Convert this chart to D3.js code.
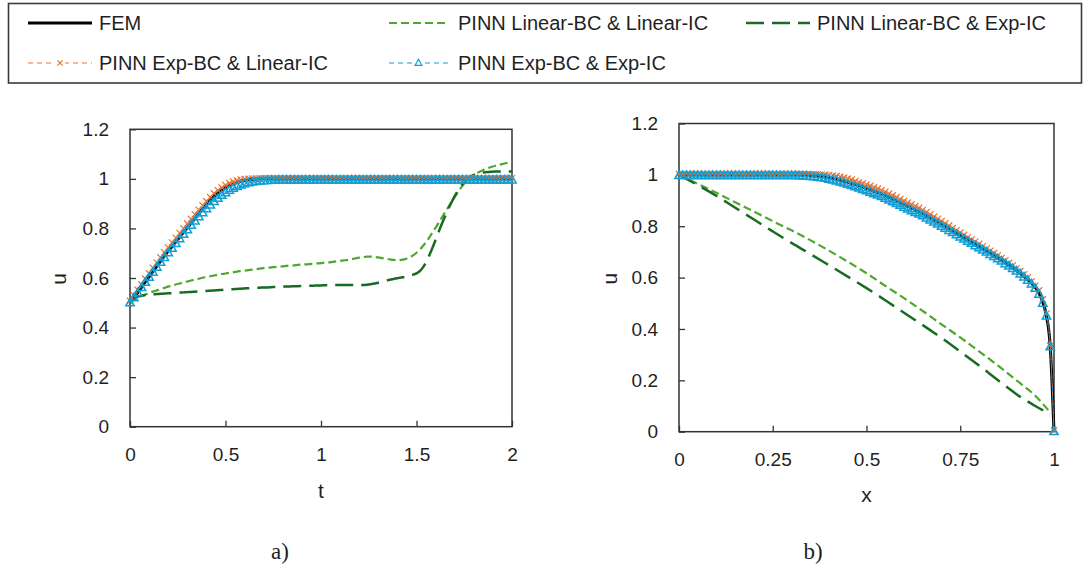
<!DOCTYPE html>
<html>
<head>
<meta charset="utf-8">
<script src="https://cdn.jsdelivr.net/npm/d3@7"></script>
<style>
  body { margin: 0; background: #fff; }
  svg { display: block; }
  text { font-family: "Liberation Sans", Arial, sans-serif; fill: #1f1f1f; }
  .caption { font-family: "Liberation Serif", "Times New Roman", serif; }
</style>
</head>
<body>
<svg id="fig" width="1083" height="570"></svg>
<script>
// ---------- (a) u versus t ----------
const tGrid = [
  0, 0.02, 0.04, 0.06, 0.08, 0.1, 0.12, 0.14, 0.16, 0.18,
  0.2, 0.22, 0.24, 0.26, 0.28, 0.3, 0.32, 0.34, 0.36, 0.38,
  0.4, 0.42, 0.44, 0.46, 0.48, 0.5, 0.52, 0.54, 0.56, 0.58,
  0.6, 0.62, 0.64, 0.66, 0.68, 0.7, 0.72, 0.74, 0.76, 0.78,
  0.8, 0.82, 0.84, 0.86, 0.88, 0.9, 0.92, 0.94, 0.96, 0.98,
  1, 1.02, 1.04, 1.06, 1.08, 1.1, 1.12, 1.14, 1.16, 1.18,
  1.2, 1.22, 1.24, 1.26, 1.28, 1.3, 1.32, 1.34, 1.36, 1.38,
  1.4, 1.42, 1.44, 1.46, 1.48, 1.5, 1.52, 1.54, 1.56, 1.58,
  1.6, 1.62, 1.64, 1.66, 1.68, 1.7, 1.72, 1.74, 1.76, 1.78,
  1.8, 1.82, 1.84, 1.86, 1.88, 1.9, 1.92, 1.94, 1.96, 1.98,
  2
];
const femT = [
  0.5, 0.52, 0.54, 0.562, 0.584, 0.605, 0.626, 0.647, 0.668, 0.688,
  0.708, 0.727, 0.746, 0.765, 0.784, 0.803, 0.822, 0.841, 0.86, 0.878,
  0.896, 0.913, 0.928, 0.942, 0.954, 0.964, 0.973, 0.98, 0.986, 0.99,
  0.993, 0.996, 0.998, 0.999, 1, 1, 1, 1, 1, 1,
  1, 1, 1, 1, 1, 1, 1, 1, 1, 1,
  1, 1, 1, 1, 1, 1, 1, 1, 1, 1,
  1, 1, 1, 1, 1, 1, 1, 1, 1, 1,
  1, 1, 1, 1, 1, 1, 1, 1, 1, 1,
  1, 1, 1, 1, 1, 1, 1, 1, 1, 1,
  1, 1, 1, 1, 1, 1, 1, 1, 1, 1,
  1
];
const linBcLinIcT = [
  0.5, 0.512, 0.52, 0.527, 0.533, 0.539, 0.545, 0.55, 0.555, 0.56,
  0.565, 0.569, 0.574, 0.578, 0.582, 0.586, 0.59, 0.594, 0.597, 0.601,
  0.604, 0.607, 0.61, 0.613, 0.616, 0.618, 0.621, 0.623, 0.626, 0.628,
  0.63, 0.632, 0.634, 0.636, 0.638, 0.64, 0.641, 0.643, 0.644, 0.646,
  0.647, 0.649, 0.65, 0.651, 0.653, 0.654, 0.655, 0.656, 0.658, 0.659,
  0.66, 0.662, 0.663, 0.665, 0.667, 0.669, 0.671, 0.673, 0.676, 0.679,
  0.682, 0.684, 0.686, 0.686, 0.685, 0.683, 0.68, 0.677, 0.675, 0.673,
  0.672, 0.673, 0.676, 0.682, 0.69, 0.702, 0.717, 0.735, 0.756, 0.779,
  0.803, 0.828, 0.853, 0.878, 0.903, 0.927, 0.95, 0.972, 0.99, 1.004,
  1.016, 1.025, 1.032, 1.039, 1.045, 1.05, 1.054, 1.058, 1.062, 1.065,
  1.068
];
const linBcExpIcT = [
  0.5, 0.516, 0.525, 0.529, 0.531, 0.533, 0.534, 0.535, 0.536, 0.537,
  0.538, 0.539, 0.54, 0.541, 0.542, 0.543, 0.544, 0.545, 0.546, 0.547,
  0.548, 0.549, 0.55, 0.551, 0.552, 0.553, 0.554, 0.555, 0.556, 0.557,
  0.558, 0.559, 0.559, 0.56, 0.561, 0.562, 0.562, 0.563, 0.564, 0.564,
  0.565, 0.566, 0.566, 0.567, 0.567, 0.568, 0.568, 0.569, 0.569, 0.57,
  0.57, 0.571, 0.571, 0.571, 0.572, 0.572, 0.572, 0.572, 0.572, 0.572,
  0.572, 0.572, 0.573, 0.575, 0.578, 0.581, 0.585, 0.589, 0.593, 0.596,
  0.599, 0.602, 0.605, 0.609, 0.613, 0.619, 0.63, 0.65, 0.68, 0.715,
  0.754, 0.794, 0.832, 0.868, 0.9, 0.93, 0.956, 0.978, 0.996, 1.008,
  1.016, 1.021, 1.025, 1.027, 1.028, 1.029, 1.03, 1.03, 1.03, 1.03,
  1.03
];
const expBcLinIcT = [
  0.508, 0.53, 0.552, 0.574, 0.597, 0.619, 0.641, 0.662, 0.683, 0.703,
  0.723, 0.743, 0.762, 0.781, 0.8, 0.819, 0.838, 0.857, 0.875, 0.893,
  0.91, 0.926, 0.941, 0.954, 0.965, 0.975, 0.983, 0.989, 0.994, 0.997,
  0.999, 1, 1.001, 1.001, 1.002, 1.002, 1.002, 1.002, 1.002, 1.002,
  1.002, 1.002, 1.002, 1.002, 1.002, 1.002, 1.002, 1.002, 1.002, 1.002,
  1.002, 1.002, 1.002, 1.002, 1.002, 1.002, 1.002, 1.002, 1.002, 1.002,
  1.002, 1.002, 1.002, 1.002, 1.002, 1.002, 1.002, 1.002, 1.002, 1.002,
  1.002, 1.002, 1.002, 1.002, 1.002, 1.002, 1.002, 1.002, 1.002, 1.002,
  1.002, 1.002, 1.002, 1.002, 1.002, 1.002, 1.002, 1.002, 1.002, 1.002,
  1.002, 1.002, 1.002, 1.002, 1.002, 1.002, 1.002, 1.002, 1.003, 1.003,
  1.003
];
const expBcExpIcT = [
  0.5, 0.52, 0.54, 0.561, 0.582, 0.603, 0.623, 0.643, 0.663, 0.682,
  0.701, 0.72, 0.739, 0.758, 0.776, 0.794, 0.812, 0.83, 0.847, 0.863,
  0.879, 0.894, 0.908, 0.921, 0.933, 0.944, 0.954, 0.962, 0.969, 0.975,
  0.98, 0.984, 0.987, 0.989, 0.991, 0.992, 0.993, 0.994, 0.994, 0.995,
  0.995, 0.995, 0.995, 0.995, 0.995, 0.995, 0.995, 0.995, 0.995, 0.995,
  0.995, 0.995, 0.995, 0.995, 0.995, 0.995, 0.995, 0.995, 0.995, 0.995,
  0.995, 0.995, 0.995, 0.995, 0.995, 0.995, 0.995, 0.995, 0.995, 0.995,
  0.995, 0.995, 0.995, 0.995, 0.995, 0.995, 0.995, 0.995, 0.995, 0.995,
  0.995, 0.995, 0.995, 0.995, 0.995, 0.995, 0.995, 0.995, 0.995, 0.995,
  0.995, 0.995, 0.995, 0.995, 0.995, 0.995, 0.995, 0.995, 0.995, 0.995,
  0.995
];

// ---------- (b) u versus x ----------
const xGrid = [
  0, 0.01, 0.02, 0.03, 0.04, 0.05, 0.06, 0.07, 0.08, 0.09,
  0.1, 0.11, 0.12, 0.13, 0.14, 0.15, 0.16, 0.17, 0.18, 0.19,
  0.2, 0.21, 0.22, 0.23, 0.24, 0.25, 0.26, 0.27, 0.28, 0.29,
  0.3, 0.31, 0.32, 0.33, 0.34, 0.35, 0.36, 0.37, 0.38, 0.39,
  0.4, 0.41, 0.42, 0.43, 0.44, 0.45, 0.46, 0.47, 0.48, 0.49,
  0.5, 0.51, 0.52, 0.53, 0.54, 0.55, 0.56, 0.57, 0.58, 0.59,
  0.6, 0.61, 0.62, 0.63, 0.64, 0.65, 0.66, 0.67, 0.68, 0.69,
  0.7, 0.71, 0.72, 0.73, 0.74, 0.75, 0.76, 0.77, 0.78, 0.79,
  0.8, 0.81, 0.82, 0.83, 0.84, 0.85, 0.86, 0.87, 0.88, 0.89,
  0.9, 0.91, 0.92, 0.93, 0.94, 0.95, 0.96, 0.97, 0.98, 0.99,
  1
];
const femX = [
  1, 1, 1, 1, 1, 1, 1, 1, 1, 1,
  1, 1, 1, 1, 1, 1, 1, 1, 1, 1,
  1, 1, 1, 1, 1, 1, 1, 1, 1, 1,
  1, 1, 1, 0.999, 0.999, 0.998, 0.997, 0.996, 0.995, 0.993,
  0.99, 0.987, 0.984, 0.98, 0.976, 0.972, 0.967, 0.963, 0.958, 0.953,
  0.948, 0.943, 0.937, 0.932, 0.926, 0.92, 0.913, 0.906, 0.899, 0.892,
  0.885, 0.878, 0.871, 0.864, 0.857, 0.85, 0.842, 0.833, 0.825, 0.816,
  0.808, 0.799, 0.79, 0.781, 0.772, 0.763, 0.754, 0.746, 0.737, 0.729,
  0.72, 0.711, 0.702, 0.694, 0.685, 0.676, 0.667, 0.657, 0.647, 0.637,
  0.627, 0.616, 0.604, 0.592, 0.578, 0.562, 0.54, 0.505, 0.45, 0.33,
  0
];
const expBcLinIcX = [
  1.003, 1.003, 1.003, 1.003, 1.003, 1.003, 1.003, 1.003, 1.003, 1.003,
  1.003, 1.003, 1.003, 1.003, 1.003, 1.003, 1.003, 1.003, 1.003, 1.003,
  1.003, 1.003, 1.003, 1.003, 1.003, 1.003, 1.003, 1.003, 1.003, 1.003,
  1.003, 1.003, 1.003, 1.003, 1.003, 1.003, 1.002, 1.002, 1.001, 1,
  0.999, 0.997, 0.995, 0.992, 0.989, 0.985, 0.981, 0.976, 0.971, 0.967,
  0.962, 0.957, 0.951, 0.946, 0.94, 0.934, 0.927, 0.92, 0.913, 0.906,
  0.899, 0.892, 0.885, 0.878, 0.871, 0.863, 0.855, 0.846, 0.837, 0.829,
  0.82, 0.811, 0.802, 0.793, 0.784, 0.775, 0.766, 0.757, 0.748, 0.74,
  0.731, 0.722, 0.713, 0.704, 0.695, 0.686, 0.676, 0.667, 0.657, 0.647,
  0.636, 0.625, 0.613, 0.6, 0.585, 0.568, 0.55, 0.515, 0.46, 0.335,
  0.005
];
const expBcExpIcX = [
  0.997, 0.997, 0.997, 0.997, 0.997, 0.997, 0.997, 0.997, 0.997, 0.997,
  0.997, 0.997, 0.997, 0.997, 0.997, 0.997, 0.997, 0.997, 0.997, 0.997,
  0.997, 0.997, 0.997, 0.997, 0.997, 0.997, 0.997, 0.997, 0.997, 0.997,
  0.997, 0.997, 0.996, 0.995, 0.994, 0.993, 0.992, 0.99, 0.988, 0.986,
  0.983, 0.98, 0.976, 0.972, 0.968, 0.963, 0.958, 0.953, 0.948, 0.943,
  0.938, 0.932, 0.926, 0.921, 0.915, 0.909, 0.902, 0.895, 0.888, 0.881,
  0.874, 0.867, 0.86, 0.853, 0.847, 0.84, 0.832, 0.824, 0.816, 0.808,
  0.8, 0.792, 0.783, 0.775, 0.766, 0.758, 0.75, 0.741, 0.733, 0.724,
  0.716, 0.707, 0.699, 0.69, 0.682, 0.673, 0.664, 0.654, 0.645, 0.635,
  0.625, 0.614, 0.602, 0.589, 0.575, 0.558, 0.535, 0.5, 0.45, 0.33,
  0
];
const xCoarse = [0, 0.05, 0.1, 0.15, 0.2, 0.25, 0.3, 0.35, 0.4, 0.45, 0.5,
                 0.55, 0.6, 0.65, 0.7, 0.75, 0.8, 0.85, 0.9, 0.95, 0.99];
const linBcLinIcX = [1, 0.965, 0.93, 0.893, 0.857, 0.82, 0.784, 0.746, 0.705, 0.662, 0.617,
                     0.568, 0.52, 0.47, 0.418, 0.367, 0.313, 0.258, 0.2, 0.14, 0.075];
const linBcExpIcX = [1, 0.96, 0.918, 0.872, 0.826, 0.78, 0.735, 0.692, 0.648, 0.604, 0.559,
                     0.512, 0.463, 0.415, 0.365, 0.312, 0.258, 0.201, 0.146, 0.1, 0.068];

// ---------- axes and legend text ----------
const uTicks = [0, 0.2, 0.4, 0.6, 0.8, 1, 1.2];
const uTickLabels = ["0", "0.2", "0.4", "0.6", "0.8", "1", "1.2"];
const tTicks = [0, 0.5, 1, 1.5, 2];
const tTickLabels = ["0", "0.5", "1", "1.5", "2"];
const xTicks = [0, 0.25, 0.5, 0.75, 1];
const xTickLabels = ["0", "0.25", "0.5", "0.75", "1"];
const seriesNames = ["FEM", "PINN Linear-BC & Linear-IC", "PINN Linear-BC & Exp-IC",
                     "PINN Exp-BC & Linear-IC", "PINN Exp-BC & Exp-IC"];

// ---------- styles ----------
const styles = {
  fem:    { color: "#000000", width: 3,   dash: null,   marker: null },
  linLin: { color: "#4EA72E", width: 2.2, dash: "8,4",  marker: null },
  linExp: { color: "#196B24", width: 2.5, dash: "18,8", marker: null },
  expLin: { color: "#E97132", width: 1,   dash: "5,4",  marker: "x" },
  expExp: { color: "#0F9ED5", width: 1,   dash: "5,4",  marker: "tri" }
};

const svg = d3.select("#fig");

function markerPath(kind, s) {
  const k = s || 1;
  if (kind === "x") return `M${-3.2*k},${-3.2*k}L${3.2*k},${3.2*k}M${-3.2*k},${3.2*k}L${3.2*k},${-3.2*k}`;
  return `M0,${-4.6*k}L${4.2*k},${2.9*k}L${-4.2*k},${2.9*k}Z`;
}

function drawSeries(g, xs, ys, sx, sy, st) {
  const pts = xs.map((v, i) => [v, ys[i]]);
  const line = d3.line().x(d => sx(d[0])).y(d => sy(d[1])).curve(d3.curveMonotoneX);
  g.append("path")
    .attr("d", line(pts))
    .attr("fill", "none")
    .attr("stroke", st.color)
    .attr("stroke-width", st.width)
    .attr("stroke-dasharray", st.dash)
    .attr("stroke-linejoin", "round");
  if (st.marker) {
    g.append("g").selectAll("path").data(pts).join("path")
      .attr("transform", d => `translate(${sx(d[0])},${sy(d[1])})`)
      .attr("d", markerPath(st.marker))
      .attr("fill", "none")
      .attr("stroke", st.color)
      .attr("stroke-width", st.marker === "x" ? 1.2 : 1.5);
  }
}

function drawPanel(p) {
  const sx = d3.scaleLinear().domain(p.xDomain).range([p.left, p.right]);
  const sy = d3.scaleLinear().domain([0, 1.2]).range([p.bottom, p.top]);
  const g = svg.append("g");

  // inward ticks and labels
  const ya = d3.axisLeft(sy).tickValues(uTicks)
    .tickFormat((d, i) => uTickLabels[i]).tickSize(-6).tickPadding(21);
  const yg = g.append("g").attr("transform", `translate(${p.left},0)`).call(ya);
  const xa = d3.axisBottom(sx).tickValues(p.xTicks)
    .tickFormat((d, i) => p.xTickLabels[i]).tickSize(-6).tickPadding(21);
  const xg = g.append("g").attr("transform", `translate(0,${p.bottom})`).call(xa);
  [yg, xg].forEach(a => {
    a.select(".domain").remove();
    a.selectAll(".tick line").attr("stroke", "#333").attr("stroke-width", 1.3);
    a.selectAll(".tick text").attr("font-size", 19)
      .attr("font-family", "'Liberation Sans', Arial, sans-serif").attr("fill", "#1f1f1f");
  });

  // frame
  g.append("rect")
    .attr("x", p.left).attr("y", p.top)
    .attr("width", p.right - p.left).attr("height", p.bottom - p.top)
    .attr("fill", "none").attr("stroke", "#333").attr("stroke-width", 1.5);

  // series, drawn in legend order
  p.series.forEach(s => drawSeries(g, s.xs, s.ys, sx, sy, styles[s.key]));

  // axis titles
  g.append("text").attr("x", (p.left + p.right) / 2).attr("y", p.xTitleY)
    .attr("text-anchor", "middle").attr("dominant-baseline", "central")
    .attr("font-size", 21).text(p.xTitle);
  g.append("text")
    .attr("transform", `translate(${p.yTitleX},${(p.top + p.bottom) / 2 + 1}) rotate(-90)`)
    .attr("text-anchor", "middle").attr("dominant-baseline", "central")
    .attr("font-size", 21).text("u");

  svg.append("text").attr("class", "caption")
    .attr("x", p.captionX).attr("y", 559).attr("text-anchor", "middle")
    .attr("font-size", 23).text(p.caption);
}

drawPanel({
  left: 130, right: 512, top: 129.3, bottom: 426.7,
  xDomain: [0, 2], xTicks: tTicks, xTickLabels: tTickLabels,
  xTitle: "t", xTitleY: 490, yTitleX: 58,
  caption: "a)", captionX: 280,
  series: [
    { key: "fem",    xs: tGrid, ys: femT },
    { key: "linLin", xs: tGrid, ys: linBcLinIcT },
    { key: "linExp", xs: tGrid, ys: linBcExpIcT },
    { key: "expLin", xs: tGrid, ys: expBcLinIcT },
    { key: "expExp", xs: tGrid, ys: expBcExpIcT }
  ]
});

drawPanel({
  left: 679, right: 1054, top: 123.5, bottom: 431.7,
  xDomain: [0, 1], xTicks: xTicks, xTickLabels: xTickLabels,
  xTitle: "x", xTitleY: 494, yTitleX: 609,
  caption: "b)", captionX: 813,
  series: [
    { key: "fem",    xs: xGrid,   ys: femX },
    { key: "linLin", xs: xCoarse, ys: linBcLinIcX },
    { key: "linExp", xs: xCoarse, ys: linBcExpIcX },
    { key: "expLin", xs: xGrid,   ys: expBcLinIcX },
    { key: "expExp", xs: xGrid,   ys: expBcExpIcX }
  ]
});

// ---------- legend ----------
const lg = svg.append("g");
lg.append("rect").attr("x", 8.5).attr("y", 3.5).attr("width", 1073).attr("height", 79.5)
  .attr("fill", "#fff").attr("stroke", "#3a3a3a").attr("stroke-width", 1.6);
const legendItems = [
  { key: "fem",    x0: 28,  x1: 92,  row: 23, tx: 99 },
  { key: "linLin", x0: 389, x1: 448, row: 23, tx: 458 },
  { key: "linExp", x0: 746, x1: 810, row: 23, tx: 817 },
  { key: "expLin", x0: 28,  x1: 92,  row: 63, tx: 99 },
  { key: "expExp", x0: 389, x1: 448, row: 63, tx: 458 }
];
const keyOrder = ["fem", "linLin", "linExp", "expLin", "expExp"];
legendItems.forEach(it => {
  const st = styles[it.key];
  lg.append("line").attr("x1", it.x0).attr("x2", it.x1).attr("y1", it.row).attr("y2", it.row)
    .attr("stroke", st.color).attr("stroke-width", st.width)
    .attr("stroke-dasharray", st.dash);
  if (st.marker) {
    lg.append("rect").attr("x", (it.x0 + it.x1) / 2 - 5).attr("y", it.row - 5)
      .attr("width", 10).attr("height", 10).attr("fill", "#fff");
    lg.append("path").attr("transform", `translate(${(it.x0 + it.x1) / 2},${it.row})`)
      .attr("d", markerPath(st.marker, 0.8)).attr("fill", "none")
      .attr("stroke", st.color).attr("stroke-width", 1.2);
  }
  lg.append("text").attr("x", it.tx).attr("y", it.row)
    .attr("dominant-baseline", "central").attr("font-size", 20)
    .text(seriesNames[keyOrder.indexOf(it.key)]);
});
</script>
</body>
</html>
